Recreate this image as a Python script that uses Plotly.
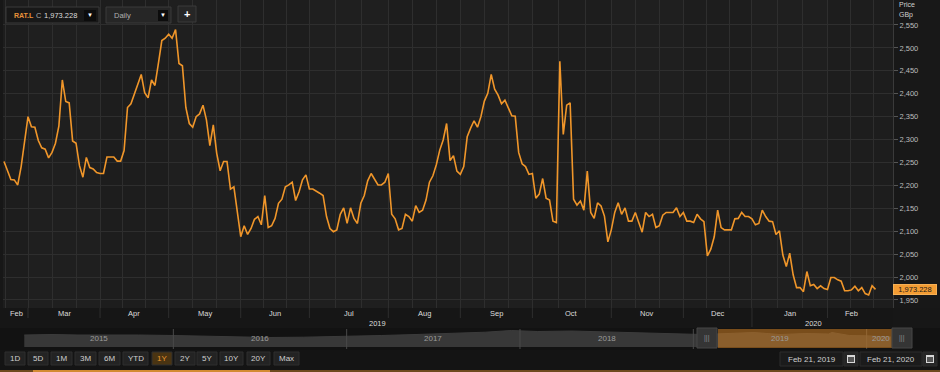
import numpy as np
import pandas as pd
import plotly.graph_objects as go

# ---------------- data ----------------
TICKER = "RAT.L"
FIRST_DAY = "2019-02-20"
LAST_DAY = "2020-02-21"
UK_HOLIDAYS = ["2019-04-19", "2019-04-22", "2019-05-06", "2019-05-27",
               "2019-08-26", "2019-12-25", "2019-12-26", "2020-01-01"]
LAST_PRICE = 1973.228

PRICE = [
    2252, 2234, 2213, 2212, 2201, 2241, 2292, 2350, 2328, 2327,
    2298, 2282, 2279, 2260, 2272, 2292, 2330, 2430, 2383, 2380,
    2297, 2292, 2243, 2218, 2261, 2239, 2236, 2228, 2226, 2226,
    2262, 2262, 2262, 2253, 2253, 2276, 2370, 2378, 2399, 2421,
    2442, 2402, 2391, 2430, 2418, 2466, 2516, 2521, 2530, 2521,
    2540, 2466, 2461, 2370, 2335, 2327, 2350, 2356, 2375, 2343,
    2287, 2332, 2270, 2232, 2252, 2252, 2192, 2197, 2146, 2088,
    2112, 2093, 2106, 2126, 2132, 2114, 2178, 2108, 2112, 2128,
    2161, 2170, 2197, 2201, 2207, 2167, 2186, 2212, 2223, 2192,
    2192, 2188, 2183, 2178, 2132, 2106, 2099, 2103, 2137, 2151,
    2117, 2151, 2128, 2117, 2161, 2178, 2210, 2226, 2212, 2201,
    2201, 2207, 2226, 2137, 2127, 2103, 2106, 2137, 2132, 2122,
    2156, 2141, 2146, 2168, 2207, 2221, 2245, 2277, 2299, 2335,
    2254, 2265, 2231, 2224, 2241, 2306, 2325, 2341, 2327, 2350,
    2384, 2401, 2442, 2410, 2397, 2378, 2386, 2370, 2352, 2351,
    2272, 2247, 2241, 2224, 2226, 2172, 2181, 2215, 2172, 2168,
    2122, 2119, 2471, 2311, 2375, 2380, 2170, 2157, 2166, 2146,
    2231, 2141, 2128, 2162, 2155, 2133, 2077, 2103, 2141, 2162,
    2137, 2151, 2122, 2122, 2141, 2119, 2098, 2141, 2132, 2137,
    2108, 2112, 2135, 2141, 2141, 2141, 2151, 2132, 2141, 2122,
    2122, 2119, 2137, 2127, 2121, 2046, 2061, 2088, 2146, 2108,
    2103, 2103, 2103, 2127, 2128, 2141, 2132, 2132, 2127, 2114,
    2117, 2146, 2132, 2122, 2121, 2093, 2101, 2048, 2023, 2052,
    2005, 1977, 1977, 1968, 2012, 1981, 1984, 1975, 1981, 1975,
    1973, 1999, 1999, 1994, 1991, 1970, 1970, 1972, 1980, 1970,
    1977, 1964, 1961, 1981, LAST_PRICE,
]

Y_TICKS = [1950, 2000, 2050, 2100, 2150, 2200, 2250, 2300, 2350, 2400, 2450, 2500, 2550]

# navigator (long history, fractional years / price)
NAV_YEARS = [2015.14, 2015.3, 2015.45, 2015.6, 2015.8, 2016.0, 2016.2, 2016.4, 2016.55,
             2016.75, 2017.0, 2017.2, 2017.4, 2017.6, 2017.8, 2017.95, 2018.1, 2018.3,
             2018.5, 2018.7, 2018.9, 2019.05, 2019.2, 2019.35, 2019.5, 2019.65, 2019.78,
             2019.8, 2019.9, 2020.0, 2020.14]
NAV_PRICE = [2200, 2250, 2200, 2230, 2200, 2150, 2080, 2000, 1950,
             1980, 2050, 2150, 2250, 2350, 2480, 2650, 2550, 2600,
             2500, 2400, 2300, 2250, 2350, 2450, 2250, 2350, 2300,
             2450, 2150, 2120, 2000]
NAV_YEAR_LABELS = ["2015", "2016", "2017", "2018", "2019", "2020"]

RANGE_BUTTONS = ["1D", "5D", "1M", "3M", "6M", "YTD", "1Y", "2Y", "5Y", "10Y", "20Y", "Max"]
ACTIVE_BUTTON = "1Y"
DATE_FROM = "Feb 21, 2019"
DATE_TO = "Feb 21, 2020"

# ---------------- geometry helpers ----------------
W, H = 940, 372
ML, MR = 3, 47
PW = W - ML - MR


def X(px):
    return (px - ML) / PW


def Y(py):
    return (H - py) / H


def trading_days(a, b):
    d = pd.bdate_range(a, b)
    return d[~d.isin(pd.to_datetime(UK_HOLIDAYS))]


dates = trading_days(FIRST_DAY, LAST_DAY)
assert len(dates) == len(PRICE), (len(dates), len(PRICE))
pos = np.arange(len(dates))
n_last = len(dates) - 1

ext = trading_days("2019-02-01", "2020-03-31")
offset = ext.get_loc(pd.Timestamp(FIRST_DAY))
ext_pos = pd.Series(np.arange(len(ext)) - offset, index=ext)
month_starts = [(per, int(g.iloc[0])) for per, g in ext_pos.groupby(ext.to_period("M"))]

grid_x = []
for (p0, b0), (p1, b1) in zip(month_starts[:-1], month_starts[1:]):
    grid_x += [b0, b0 + (b1 - b0) / 3, b0 + 2 * (b1 - b0) / 3]
grid_x.append(month_starts[-1][1])

X_RANGE = [-0.29, 259.1]
Y_RANGE = [1932.5, 2604.5]

LINE_COLOR = "#f0962a"
GRID = "#2e2e2e"
FONT = "Arial, Liberation Sans, sans-serif"

fig = go.Figure()

# navigator area
fig.add_trace(go.Scatter(x=NAV_YEARS, y=NAV_PRICE, mode="lines", line=dict(color="#3b3b3b", width=1),
                         fill="tozeroy", fillcolor="#383838", xaxis="x2", yaxis="y2",
                         hoverinfo="skip", showlegend=False))

# main price line
fig.add_trace(go.Scatter(x=pos, y=PRICE, mode="lines", line=dict(color=LINE_COLOR, width=1.6),
                         customdata=dates.strftime("%b %d, %Y"),
                         hovertemplate="%{customdata}<br>%{y:,.3f}<extra></extra>",
                         showlegend=False))

shapes = []
annotations = []


def rect(x0, y0, x1, y1, fill, line=None, lw=1, layer="above"):
    shapes.append(dict(type="rect", xref="paper", yref="paper", x0=X(x0), x1=X(x1), y0=Y(y1), y1=Y(y0),
                       fillcolor=fill, line=dict(color=line or fill, width=lw if line else 0), layer=layer))


def text(px, py, s, size=8, color="#cccccc", anchor="left", bold=False, valign="middle"):
    annotations.append(dict(xref="paper", yref="paper", x=X(px), y=Y(py), text=f"<b>{s}</b>" if bold else s,
                            showarrow=False, xanchor=anchor, yanchor=valign,
                            font=dict(size=size, color=color, family=FONT)))


# alternating subtle bands per month in the plot area
for i, ((p0, b0), (p1, b1)) in enumerate(zip(month_starts[:-1], month_starts[1:])):
    if i % 2 == 1:
        shapes.append(dict(type="rect", xref="x", yref="y", x0=b0, x1=b1, y0=Y_RANGE[0], y1=Y_RANGE[1],
                           fillcolor="rgba(255,255,255,0.012)", line=dict(width=0), layer="below"))

# bottom panel backgrounds
rect(-3, 308, 893, 328, "#161616", layer="below")
rect(-3, 328, 940, 350, "#121212", layer="below")
rect(-3, 350, 940, 372, "#141414", layer="below")
rect(893, 0, 940, 308, "#181818", layer="below")

# month tick marks in label row
for per, b in month_starts:
    if X_RANGE[0] < b < X_RANGE[1]:
        shapes.append(dict(type="line", xref="x", yref="paper", x0=b, x1=b, y0=Y(318), y1=Y(308),
                           line=dict(color="#2e2e2e", width=1)))

# month labels
for (p0, b0), (p1, b1) in zip(month_starts[:-1], month_starts[1:]):
    lo, hi = max(b0, 0), min(b1, n_last)
    if hi > lo:
        annotations.append(dict(xref="x", yref="paper", x=(lo + hi) / 2, y=Y(313.5), text=p0.strftime("%b"),
                                showarrow=False, xanchor="center", yanchor="middle",
                                font=dict(size=7.5, color="#dcdcdc", family=FONT)))
# year labels
year_start = {}
for per, b in month_starts:
    year_start.setdefault(per.year, b)
for yr in (2019, 2020):
    lo = max(year_start[yr], 0)
    hi = min(year_start.get(yr + 1, n_last), n_last)
    annotations.append(dict(xref="x", yref="paper", x=(lo + hi) / 2, y=Y(323), text=str(yr),
                            showarrow=False, xanchor="center", yanchor="middle",
                            font=dict(size=7.5, color="#dcdcdc", family=FONT)))
shapes.append(dict(type="line", xref="x", yref="paper", x0=year_start[2020], x1=year_start[2020],
                   y0=Y(327), y1=Y(318), line=dict(color="#2e2e2e", width=1)))

# navigator decorations
for i, lab in enumerate(NAV_YEAR_LABELS):
    y0 = 2015 + i
    shapes.append(dict(type="line", xref="x2", yref="paper", x0=y0, x1=y0, y0=Y(349), y1=Y(329),
                       line=dict(color="#4a4a4a", width=1), layer="above"))
    if i == 0:
        mid = (2015.14 + 2016) / 2
    elif y0 < 2020:
        mid = y0 + 0.5
    else:
        mid = 2020.08
    annotations.append(dict(xref="x2", yref="paper", x=mid, y=Y(338), text=lab, showarrow=False,
                            xanchor="center", yanchor="middle",
                            font=dict(size=8, color="#9a9a9a", family=FONT)))
rect(718, 329, 892, 348, "rgba(205,125,35,0.55)")
for hx in (697, 892):
    rect(hx, 328, hx + 20, 348, "#353535", line="#474747")
    text(hx + 10, 338, "|||", size=7, color="#8a8a8a", anchor="center")

# toolbar
rect(6, 7, 99, 23, "#181818", line="#3a3a3a")
rect(84, 10, 96, 21, "#0c0c0c")
text(90, 15.5, "▼", size=6, color="#ffffff", anchor="center")
text(12, 15.5, "<b>" + TICKER + "</b>", size=7, color="#e8923a")
text(34, 15.5, "C", size=7.5, color="#aaaaaa")
text(41.5, 15.5, f"{LAST_PRICE:,.3f}", size=7.5, color="#dddddd")
rect(106, 7, 171, 23, "#262626", line="#3a3a3a")
text(112, 15.5, "Daily", size=7.5, color="#b0b0b0")
rect(158, 10, 168, 21, "#0c0c0c")
text(163, 15.5, "▼", size=6, color="#ffffff", anchor="center")
rect(178, 6, 196, 22, "#262626", line="#3a3a3a")
text(187, 14.5, "<b>+</b>", size=11, color="#ffffff", anchor="center")

# y axis header
text(897, 5, "Price", size=7, color="#cfcfcf")
text(897, 15, "GBp", size=7, color="#cfcfcf")

# current price flag
annotations.append(dict(xref="paper", yref="y", x=X(893), y=LAST_PRICE, text=f"{LAST_PRICE:,.3f}",
                        showarrow=False, xanchor="left", yanchor="middle", bgcolor="#f39c33",
                        bordercolor="#f7b055", borderwidth=1, borderpad=0, width=42, height=9,
                        font=dict(size=7.5, color="#1a1a1a", family=FONT)))

# range buttons
BTN_X = [(5, 25), (28, 48), (51, 72), (75, 96), (99, 120), (123, 148), (152, 172),
         (175, 195), (197, 217), (220, 243), (247, 270), (274, 299)]
for lab, (x0, x1) in zip(RANGE_BUTTONS, BTN_X):
    active = lab == ACTIVE_BUTTON
    rect(x0, 352, x1, 365, "#4a3412" if active else "#232323", line="#2e2e2e")
    text((x0 + x1) / 2, 358.5, lab, size=8, color="#e8962e" if active else "#cfcfcf", anchor="center")

# date pickers
for (x0, x1, ic0, ic1, lab) in [(780, 843, 844, 858, DATE_FROM), (860, 922, 923, 937, DATE_TO)]:
    rect(x0, 352, x1, 366, "#1b1b1b", line="#2c2c2c")
    text((x0 + x1) / 2, 359, lab, size=8, color="#cfcfcf", anchor="center")
    rect(ic0, 352, ic1, 366, "#262626", line="#2c2c2c")
    rect(ic0 + 3, 355, ic1 - 3, 363, "#d8d8d8")
    rect(ic0 + 4, 357, ic1 - 4, 362, "#555555")

# window accents
rect(-3, 0, -1, 372, "#c97f2a")
rect(-3, 370, 940, 372, "#6e4a1e")
rect(33, 370, 270, 372, "#d38b33")

fig.update_layout(
    width=W, height=H,
    margin=dict(l=ML, r=MR, t=0, b=0),
    paper_bgcolor="#171717",
    plot_bgcolor="#1d1d1d",
    showlegend=False,
    hovermode="x",
    shapes=shapes,
    annotations=annotations,
    xaxis=dict(domain=[0, 1], range=X_RANGE, tickmode="array", tickvals=grid_x, showticklabels=False,
               ticks="", showgrid=True, gridcolor=GRID, gridwidth=1, zeroline=False, showline=False,
               fixedrange=True),
    yaxis=dict(domain=[Y(308), 1], range=Y_RANGE, side="right", tickmode="array", tickvals=Y_TICKS,
               tickformat=",", ticks="outside", ticklen=4, tickcolor="#555555",
               tickfont=dict(size=7.5, color="#bdbdbd", family=FONT),
               showgrid=True, gridcolor=GRID, zeroline=False, showline=True, linecolor="#3a3a3a",
               fixedrange=True),
    xaxis2=dict(domain=[0, 1], anchor="y2", range=[2015.0173, 2015 + 893 / 173.33],
                showgrid=False, showticklabels=False, zeroline=False, fixedrange=True),
    yaxis2=dict(domain=[Y(347), Y(329)], anchor="x2", range=[1000, 2800], showgrid=False,
                showticklabels=False, zeroline=False, fixedrange=True),
)

fig.write_html("out.html", config={"displayModeBar": False},
               post_script="document.body.style.margin='0px';document.body.style.overflow='hidden';")
